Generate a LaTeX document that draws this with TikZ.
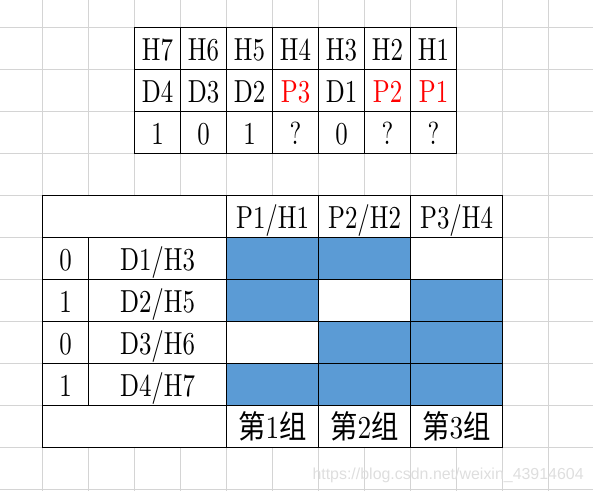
\documentclass[tikz,border=0pt]{standalone}
\usepackage{fontspec}
\setmainfont{lmroman10-regular}[Extension=.otf]
\newfontfamily\cjk{Noto Sans CJK SC}
\newfontfamily\wmfont{Liberation Sans}
\definecolor{cellblue}{RGB}{91,155,213}
\definecolor{gridgray}{RGB}{212,212,212}
\definecolor{wmgray}{RGB}{222,222,222}

\begin{document}
\begin{tikzpicture}[x=46bp, y=-42bp,
  gridline/.style={gridgray, line width=1bp},
  tabline/.style={black, line width=1.2bp},
  txt/.style={font=\fontsize{32}{32}\selectfont, xscale=0.78, anchor=base, inner sep=0pt},
  grouptxt/.style={txt, xscale=1.1},
  bluecell/.style={fill=cellblue}]

	\useasboundingbox (0.0761,0.35) rectangle (12.967,12.04);

	% sheet grid
	\foreach \k in {1,...,12} \draw[gridline] (\k,0.35) -- (\k,12.04);
	\foreach \k in {1,...,12} \draw[gridline] (0.0761,\k) -- (12.967,\k);

	\fill[white] (3,1) rectangle (10,4); \fill[white] (1,5) rectangle (11,11);

	% parity cells
	\fill[bluecell] (5,6) rectangle (9,7); \fill[bluecell] (5,7)
        rectangle (7,8); \fill[bluecell] (9,7) rectangle (11,8);
        \fill[bluecell] (7,8) rectangle (11,9); \fill[bluecell] (5,9)
        rectangle (11,10);

	% upper table
	\draw[tabline] (3,1) rectangle (10,4); \draw[tabline] (3,2) -- (10,2);
	\draw[tabline] (3,3) -- (10,3); \draw[tabline] (4,1) -- (4,4);
	\draw[tabline] (5,1) -- (5,4); \draw[tabline] (6,1) -- (6,4);
	\draw[tabline] (7,1) -- (7,4); \draw[tabline] (8,1) -- (8,4);
	\draw[tabline] (9,1) -- (9,4);

	% lower table
	\draw[tabline] (1,5) rectangle (11,11); \draw[tabline] (1,6) -- (11,6);
	\draw[tabline] (1,7) -- (11,7); \draw[tabline] (1,8) -- (11,8);
	\draw[tabline] (1,9) -- (11,9); \draw[tabline] (1,10) -- (11,10);
	\draw[tabline] (2,6) -- (2,10); \draw[tabline] (5,5) -- (5,11);
	\draw[tabline] (7,5) -- (7,11); \draw[tabline] (9,5) -- (9,11);

	\node[txt] (h7) at (3.5,1.8) {H7}; \node[txt] (h6) at (4.5,1.8) {H6};
	\node[txt] (h5) at (5.5,1.8) {H5}; \node[txt] (h4) at (6.5,1.8) {H4};
	\node[txt] (h3) at (7.5,1.8) {H3}; \node[txt] (h2) at (8.5,1.8) {H2};
	\node[txt] (h1) at (9.5,1.8) {H1};

	\node[txt] (d4) at (3.5,2.8) {D4}; \node[txt] (d3) at (4.5,2.8) {D3};
	\node[txt] (d2) at (5.5,2.8) {D2}; \node[txt, text=red] (p3) at (6.5,2.8) {P3};
	\node[txt] (d1) at (7.5,2.8) {D1}; \node[txt, text=red] (p2) at (8.5,2.8) {P2};
	\node[txt, text=red] (p1) at (9.5,2.8) {P1};

	\node[txt] (v7) at (3.5,3.8) {1}; \node[txt] (v6) at (4.5,3.8) {0};
	\node[txt] (v5) at (5.5,3.8) {1}; \node[txt] (v4) at (6.5,3.8) {?};
	\node[txt] (v3) at (7.5,3.8) {0}; \node[txt] (v2) at (8.5,3.8) {?};
	\node[txt] (v1) at (9.5,3.8) {?};

	\node[txt] (ph1) at (6,5.8) {P1/H1}; \node[txt] (ph2) at (8,5.8) {P2/H2};
	\node[txt] (ph4) at (10,5.8) {P3/H4};

	\node[txt] (b1) at (1.5,6.8) {0}; \node[txt] (dh3) at (3.5,6.8) {D1/H3};
	\node[txt] (b2) at (1.5,7.8) {1}; \node[txt] (dh5) at (3.5,7.8) {D2/H5};
	\node[txt] (b3) at (1.5,8.8) {0}; \node[txt] (dh6) at (3.5,8.8) {D3/H6};
	\node[txt] (b4) at (1.5,9.8) {1}; \node[txt] (dh7) at (3.5,9.8) {D4/H7};

	\node[grouptxt] (g1) at (6,10.8) {{\cjk 第}1{\cjk 组}};
	\node[grouptxt] (g2) at (8,10.8) {{\cjk 第}2{\cjk 组}};
	\node[grouptxt] (g3) at (10,10.8) {{\cjk 第}3{\cjk 组}};

	\node[font=\wmfont\fontsize{16}{16}\selectfont, text=wmgray, anchor=base west,
        inner sep=0pt] (wm) at (6.865,11.755) {https://blog.csdn.net/weixin\_43914604};
      \end{tikzpicture}
\end{document}
